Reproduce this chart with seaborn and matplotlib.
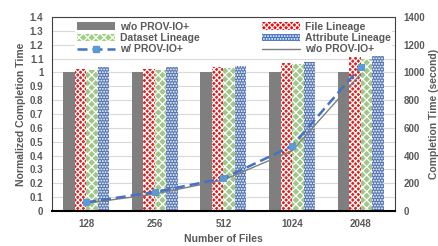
import numpy as np
import pandas as pd
import matplotlib
matplotlib.use("Agg")
import matplotlib.pyplot as plt
from matplotlib.patches import Patch
from matplotlib.lines import Line2D
import seaborn as sns

# data
files = ["128", "256", "512", "1024", "2048"]
norm_wo = [1.0, 1.0, 1.0, 1.0, 1.0]
norm_file = [1.024, 1.026, 1.038, 1.067, 1.108]
norm_dataset = [1.019, 1.020, 1.031, 1.058, 1.098]
norm_attr = [1.036, 1.040, 1.048, 1.076, 1.115]
time_with = [63, 137, 236, 469, 1042]
time_without = [56, 123, 224, 435, 990]

series_names = ["w/o PROV-IO+", "File Lineage", "Dataset Lineage", "Attribute Lineage"]

sns.set_theme(style="white")
plt.rcParams['font.family'] = ['Liberation Sans', 'DejaVu Sans']
plt.rcParams['hatch.linewidth'] = 0.9
txt = "#595959"

df = pd.DataFrame({
    "files": files * 4,
    "value": norm_wo + norm_file + norm_dataset + norm_attr,
    "series": sum([[s] * len(files) for s in series_names], []),
})

colors = ["#7f7f7f", "#ff0000", "#9fd080", "#4472c4"]
hatches = [None, "xxxxxx", "xxxx", "......"]

fig = plt.figure(figsize=(4.39, 2.46), dpi=100)
ax = fig.add_axes([0.118, 0.142, 0.782, 0.789])

sns.barplot(data=df, x="files", y="value", hue="series", hue_order=series_names,
            palette=colors, width=0.67, gap=0, ax=ax, legend=False, zorder=2)

for i, s in enumerate(series_names):
    for p in ax.containers[i]:
        p.set_linewidth(0)
        if hatches[i]:
            p.set_hatch(hatches[i])
            p.set_edgecolor("#ffffff")

ax.set_ylim(0, 1.4)
ax.set_xlim(-0.5, 4.5)
ax.set_yticks(np.arange(0, 1.41, 0.1))
ax.set_yticklabels(["0"] + [f"{v:.1f}".rstrip("0").rstrip(".") for v in np.arange(0.1, 1.41, 0.1)])
ax.yaxis.grid(True, color="#d9d9d9", linewidth=0.8, zorder=0)
ax.set_axisbelow(True)
ax.set_xlabel("Number of Files", fontsize=7.5, fontweight="bold", color=txt, labelpad=3)
ax.set_ylabel("Normalized Completion Time", fontsize=7.5, fontweight="bold", color=txt, labelpad=3)
ax.tick_params(axis="both", labelsize=7, colors=txt, length=0, pad=6)
for lab in ax.get_xticklabels() + ax.get_yticklabels():
    lab.set_fontweight("bold")
for sp in ["top", "right", "left"]:
    ax.spines[sp].set_color("#404040")
    ax.spines[sp].set_linewidth(0.8)
ax.spines["bottom"].set_color("#000000")
ax.spines["bottom"].set_linewidth(1.5)

ax2 = ax.twinx()
xs = np.arange(len(files))
sns.lineplot(x=xs, y=time_without, ax=ax2, color="#7f7f7f", linewidth=1.0, zorder=3)
sns.lineplot(x=xs, y=time_with, ax=ax2, color="#4472c4", linewidth=1.8,
             linestyle=(0, (4, 2)), marker="s", markersize=5,
             markerfacecolor="#5b9bd5", markeredgecolor="#5b9bd5", zorder=4)
ax2.set_ylim(0, 1400)
ax2.set_yticks(range(0, 1401, 200))
ax2.set_ylabel("Completion Time (second)", fontsize=7.5, fontweight="bold", color=txt, labelpad=3)
ax2.tick_params(axis="y", labelsize=7, colors=txt, length=0, pad=6)
for lab in ax2.get_yticklabels():
    lab.set_fontweight("bold")
for sp in ax2.spines.values():
    sp.set_visible(False)

handles = [
    Patch(facecolor=colors[0], edgecolor="none"),
    Patch(facecolor=colors[2], edgecolor="#ffffff", hatch=hatches[2], linewidth=0),
    Line2D([], [], color="#4472c4", linewidth=1.8, linestyle=(0, (4, 2)), marker="s",
           markersize=5, markerfacecolor="#5b9bd5", markeredgecolor="#5b9bd5"),
    Patch(facecolor=colors[1], edgecolor="#ffffff", hatch=hatches[1], linewidth=0),
    Patch(facecolor=colors[3], edgecolor="#ffffff", hatch=hatches[3], linewidth=0),
    Line2D([], [], color="#7f7f7f", linewidth=1.0),
]
labels = ["w/o PROV-IO+", "Dataset Lineage", "w/ PROV-IO+",
          "File Lineage", "Attribute Lineage", "w/o PROV-IO+"]
leg = ax2.legend(handles, labels, ncol=2, loc="upper right", bbox_to_anchor=(1.0, 1.0),
                 frameon=True, facecolor="white", edgecolor="none", framealpha=1,
                 fontsize=7.5, handlelength=3.7, handleheight=0.7, columnspacing=6.0,
                 labelspacing=0.12, borderpad=0.2, handletextpad=0.4,
                 borderaxespad=0.25)
for t in leg.get_texts():
    t.set_color(txt)
    t.set_fontweight("bold")

fig.savefig("out.png", dpi=100)
